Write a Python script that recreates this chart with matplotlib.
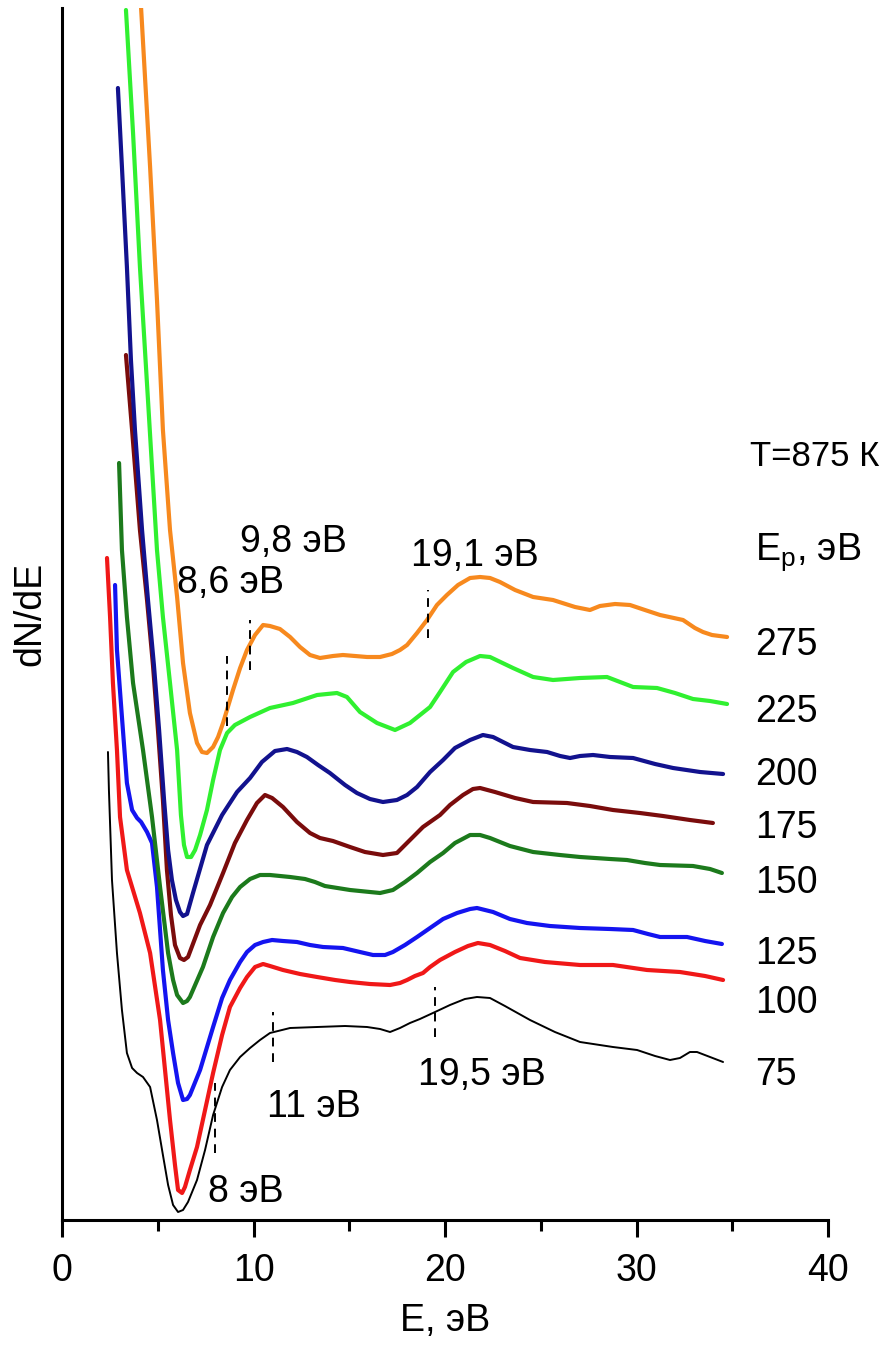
import numpy as np
import matplotlib.pyplot as plt

plt.rcParams['font.family'] = ['Liberation Sans', 'DejaVu Sans']
plt.rcParams['mathtext.default'] = 'regular'

# secondary electron spectra dN/dE (arb. units, curves shifted vertically), T = 875 K
e_75 = [2.40, 2.45, 2.61, 2.87, 3.13, 3.39, 3.66, 3.92, 4.23, 4.60, 4.96, 5.27, 5.54, 5.80, 6.06,
        6.32, 6.58, 7.05, 7.47, 7.89, 8.36, 8.77, 9.30, 9.82, 10.34, 10.86, 11.91, 13.32, 14.78,
        15.93, 16.61, 17.13, 17.65, 18.17, 18.69, 19.37, 20.26, 21.04, 21.67, 22.35, 23.13, 24.44,
        25.74, 27.05, 28.77, 30.03, 30.97, 31.75, 32.27, 32.79, 33.16, 33.84, 34.52]
d_75 = [4.68, 4.30, 3.40, 2.67, 2.10, 1.67, 1.52, 1.47, 1.43, 1.33, 1.00, 0.65, 0.35, 0.15, 0.08,
        0.10, 0.18, 0.40, 0.70, 1.05, 1.33, 1.50, 1.63, 1.72, 1.80, 1.87, 1.92, 1.93, 1.94,
        1.93, 1.91, 1.88, 1.92, 1.97, 2.01, 2.07, 2.15, 2.21, 2.23, 2.22, 2.14, 2.00,
        1.88, 1.78, 1.73, 1.70, 1.64, 1.60, 1.62, 1.68, 1.68, 1.63, 1.58]

e_100 = [2.35, 2.51, 2.66, 2.87, 3.03, 3.39, 4.07, 4.60, 5.12, 5.38, 5.64, 5.90, 6.06, 6.27, 6.42,
         6.68, 7.05, 7.47, 7.89, 8.36, 8.77, 9.30, 9.66, 10.08, 10.50, 10.86, 11.54, 12.43, 13.32,
         14.26, 15.04, 16.08, 17.13, 17.65, 18.02, 18.43, 18.85, 19.22, 19.74, 20.52, 21.20, 21.72,
         22.35, 23.13, 23.92, 25.22, 27.05, 28.77, 30.55, 32.27, 33.58, 34.52]
d_100 = [6.62, 6.03, 5.37, 4.70, 4.03, 3.50, 3.07, 2.67, 2.00, 1.50, 1.00, 0.55, 0.30, 0.27, 0.33,
         0.50, 0.73, 1.10, 1.47, 1.85, 2.13, 2.32, 2.43, 2.53, 2.56, 2.54, 2.50, 2.46, 2.43,
         2.40, 2.38, 2.36, 2.35, 2.37, 2.40, 2.44, 2.47, 2.53, 2.60, 2.68, 2.74, 2.77,
         2.75, 2.69, 2.62, 2.58, 2.55, 2.55, 2.50, 2.48, 2.44, 2.40]

e_125 = [2.77, 2.87, 3.13, 3.39, 3.66, 3.92, 4.13, 4.44, 4.70, 4.96, 5.27, 5.54, 5.80, 6.06, 6.32,
         6.53, 6.68, 7.21, 7.89, 8.36, 8.77, 9.30, 9.66, 10.08, 10.50, 10.97, 11.54, 12.27, 12.95,
         13.63, 14.67, 15.56, 16.24, 16.87, 17.28, 17.91, 18.54, 19.22, 19.90, 20.63, 21.31, 21.67,
         22.51, 23.39, 24.28, 25.48, 27.05, 28.62, 29.82, 30.60, 31.23, 32.64, 33.58, 34.46]
d_125 = [6.35, 5.70, 5.03, 4.37, 4.10, 4.02, 3.98, 3.88, 3.77, 3.33, 2.50, 2.00, 1.67, 1.37, 1.20,
         1.21, 1.25, 1.50, 1.93, 2.22, 2.40, 2.58, 2.68, 2.75, 2.78, 2.80, 2.79, 2.78, 2.75,
         2.73, 2.72, 2.68, 2.65, 2.65, 2.68, 2.75, 2.83, 2.92, 3.01, 3.07, 3.11, 3.12,
         3.08, 3.01, 2.97, 2.94, 2.92, 2.91, 2.90, 2.86, 2.83, 2.83, 2.79, 2.76]

e_150 = [2.98, 3.13, 3.39, 3.71, 4.23, 4.70, 5.12, 5.54, 5.80, 6.01, 6.32, 6.53, 6.68, 7.36, 7.89,
         8.41, 8.88, 9.30, 9.82, 10.34, 10.86, 11.91, 12.69, 13.21, 13.73, 15.04, 16.08, 16.61,
         17.28, 17.91, 18.54, 19.22, 19.90, 20.52, 21.31, 21.83, 22.35, 23.39, 24.60, 26.00, 27.05,
         28.62, 29.50, 30.44, 31.23, 32.95, 33.84, 34.46]
d_150 = [7.57, 6.70, 6.03, 5.37, 4.70, 4.03, 3.33, 2.67, 2.40, 2.25, 2.17, 2.19, 2.23, 2.53, 2.83,
         3.07, 3.23, 3.33, 3.41, 3.45, 3.45, 3.43, 3.41, 3.38, 3.34, 3.30, 3.28, 3.27,
         3.30, 3.38, 3.47, 3.58, 3.67, 3.77, 3.85, 3.85, 3.82, 3.74, 3.68, 3.65, 3.63,
         3.61, 3.60, 3.57, 3.55, 3.54, 3.51, 3.47]

e_175 = [3.34, 3.66, 4.07, 4.44, 4.75, 5.01, 5.27, 5.48, 5.69, 5.90, 6.16, 6.37, 6.58, 7.21, 7.73,
         8.41, 9.03, 9.66, 10.18, 10.60, 10.97, 11.54, 12.27, 12.95, 13.47, 14.15, 15.04, 15.82,
         16.76, 17.49, 18.17, 18.85, 19.74, 20.26, 20.94, 21.46, 21.83, 22.61, 23.66, 24.60, 26.37,
         27.57, 28.77, 30.18, 31.38, 32.79, 33.99]
d_175 = [8.65, 7.90, 6.90, 6.20, 5.55, 4.90, 4.20, 3.50, 3.05, 2.75, 2.62, 2.60, 2.63, 2.95, 3.15,
         3.47, 3.77, 4.00, 4.17, 4.25, 4.22, 4.13, 3.98, 3.87, 3.82, 3.79, 3.73, 3.68,
         3.65, 3.67, 3.80, 3.93, 4.05, 4.15, 4.25, 4.31, 4.32, 4.28, 4.22, 4.18, 4.17,
         4.14, 4.10, 4.07, 4.04, 4.00, 3.97]

e_200 = [2.92, 3.13, 3.39, 3.60, 3.81, 4.18, 4.49, 4.80, 5.07, 5.33, 5.54, 5.74, 5.95, 6.16, 6.32,
         6.53, 6.84, 7.57, 8.36, 9.14, 9.82, 10.44, 11.12, 11.75, 12.27, 12.79, 13.37, 13.99, 14.78,
         15.40, 16.08, 16.76, 17.49, 18.02, 18.54, 19.22, 19.90, 20.52, 21.31, 21.98, 22.51, 23.03,
         23.55, 24.44, 25.33, 26.01, 26.53, 27.05, 27.73, 28.62, 29.82, 30.97, 31.91, 33.32, 34.52]
d_200 = [11.32, 10.53, 9.53, 8.60, 7.90, 6.90, 6.20, 5.55, 4.90, 4.20, 3.70, 3.40, 3.20, 3.08, 3.04,
         3.06, 3.27, 3.75, 4.05, 4.28, 4.42, 4.58, 4.69, 4.71, 4.68, 4.63, 4.55, 4.47, 4.35,
         4.27, 4.21, 4.18, 4.20, 4.25, 4.33, 4.48, 4.60, 4.72, 4.80, 4.85, 4.83, 4.78,
         4.73, 4.70, 4.68, 4.64, 4.62, 4.64, 4.65, 4.63, 4.62, 4.56, 4.52, 4.48, 4.46]

e_225 = [3.34, 3.71, 4.07, 4.49, 4.96, 5.27, 5.64, 6.01, 6.21, 6.37, 6.53, 6.74, 6.95, 7.21, 7.57,
         7.89, 8.25, 8.62, 9.03, 9.82, 10.86, 12.06, 13.32, 14.36, 14.88, 15.56, 16.45, 17.39,
         18.17, 19.22, 19.74, 20.42, 21.10, 21.83, 22.35, 23.55, 24.60, 25.64, 27.05, 28.46, 29.14,
         29.82, 31.07, 32.01, 32.95, 33.84, 34.73]
d_225 = [12.10, 10.87, 9.53, 8.20, 6.70, 6.03, 5.37, 4.70, 4.05, 3.75, 3.63, 3.63, 3.70, 3.85, 4.10,
         4.40, 4.70, 4.87, 4.95, 5.03, 5.12, 5.17, 5.25, 5.27, 5.23, 5.08, 4.97, 4.90,
         4.97, 5.13, 5.28, 5.48, 5.58, 5.64, 5.63, 5.52, 5.43, 5.40, 5.42, 5.43, 5.38,
         5.33, 5.32, 5.27, 5.21, 5.19, 5.16]

e_275 = [4.13, 4.60, 4.96, 5.27, 5.64, 6.01, 6.32, 6.68, 7.05, 7.31, 7.57, 7.89, 8.15, 8.41, 8.93,
         9.30, 9.66, 10.08, 10.50, 10.86, 11.38, 11.91, 12.43, 12.95, 13.47, 14.15, 14.67, 15.30,
         15.93, 16.61, 17.23, 17.65, 18.02, 18.54, 19.06, 19.58, 20.10, 20.68, 21.31, 21.83, 22.35,
         22.87, 23.66, 24.60, 25.64, 26.79, 27.57, 28.09, 28.88, 29.66, 30.44, 31.23, 32.43, 33.05,
         33.47, 33.94, 34.73]
d_275 = [12.12, 10.53, 9.20, 7.90, 6.90, 6.23, 5.57, 5.07, 4.77, 4.68, 4.67, 4.73, 4.83, 4.97, 5.30,
         5.52, 5.70, 5.85, 5.95, 5.94, 5.91, 5.83, 5.73, 5.65, 5.62, 5.64, 5.65, 5.64,
         5.63, 5.63, 5.66, 5.70, 5.75, 5.87, 6.00, 6.15, 6.25, 6.35, 6.42, 6.43, 6.42,
         6.38, 6.30, 6.23, 6.20, 6.13, 6.10, 6.14, 6.16, 6.15, 6.10, 6.05, 6.00, 5.92,
         5.88, 5.85, 5.83]

ep = [75, 100, 125, 150, 175, 200, 225, 275]
label_y = [1.45, 2.17, 2.66, 3.37, 3.92, 4.45, 5.08, 5.75]

# features marked on the 75 eV and 275 eV curves
feat_75 = [8.0, 11.0, 19.5]
feat_275 = [8.6, 9.8, 19.1]

curves = [(e_75, d_75), (e_100, d_100), (e_125, d_125), (e_150, d_150),
          (e_175, d_175), (e_200, d_200), (e_225, d_225), (e_275, d_275)]
colors = ['black', '#F01818', '#1414F0', '#1C7A1C', '#7A0C0C', '#12128E', '#30F030', '#F7891E']
widths = [1.4, 3.0, 3.0, 3.0, 3.0, 3.0, 3.0, 3.0]

fig = plt.figure(figsize=(8.91, 13.51), dpi=100)
ax = fig.add_axes([62 / 891, 131 / 1351, 766 / 891, 1212 / 1351])

for (e, d), c, lw in zip(curves, colors, widths):
    ax.plot(e, d, color=c, lw=lw, solid_joinstyle='round', solid_capstyle='round')

for lab, yl in zip(ep, label_y):
    ax.text(36.2, yl, str(lab), fontsize=27, ha='left', va='center')


def mark(e_feat, curve, half, shift=0.0):
    yc = np.interp(e_feat, curve[0], curve[1]) + shift
    ax.plot([e_feat, e_feat], [yc - half, yc + half], color='black', lw=1.4,
            linestyle=(0, (4.5, 3.5)))


mark(feat_75[0], curves[0], 0.35, -0.1)
mark(feat_75[1], curves[0], 0.25, -0.05)
mark(feat_75[2], curves[0], 0.25)
mark(feat_275[0], curves[7], 0.35, 0.2)
mark(feat_275[1], curves[7], 0.25)
mark(feat_275[2], curves[7], 0.24, 0.05)

ax.text(7.6, 0.28, '8 эВ', fontsize=27, va='center')
ax.text(10.7, 1.13, '11 эВ', fontsize=27, va='center')
ax.text(18.6, 1.45, '19,5 эВ', fontsize=27, va='center')
ax.text(6.0, 6.37, '8,6 эВ', fontsize=27, va='center')
ax.text(9.3, 6.78, '9,8 эВ', fontsize=27, va='center')
ax.text(18.2, 6.64, '19,1 эВ', fontsize=27, va='center')
ax.text(35.95, 7.64, 'T=875 К', fontsize=25, va='center')
ax.text(36.2, 6.68, 'E$_p$, эВ', fontsize=27, va='center')

ax.set_xlim(0, 40)
ax.set_ylim(0, 12.12)
ax.set_xticks([0, 10, 20, 30, 40])
ax.set_xticks([5, 15, 25, 35], minor=True)
ax.tick_params(axis='x', which='major', direction='out', length=12, width=2.2,
               labelsize=27, pad=12)
ax.tick_params(axis='x', which='minor', direction='out', length=8, width=2.2)
ax.tick_params(axis='y', left=False, labelleft=False)
for side in ['top', 'right']:
    ax.spines[side].set_visible(False)
for side in ['left', 'bottom']:
    ax.spines[side].set_linewidth(2.2)

ax.set_xlabel('E, эВ', fontsize=27, labelpad=10)
ax.set_ylabel('dN/dE', fontsize=27, labelpad=10)

fig.savefig('out.png', dpi=100)
